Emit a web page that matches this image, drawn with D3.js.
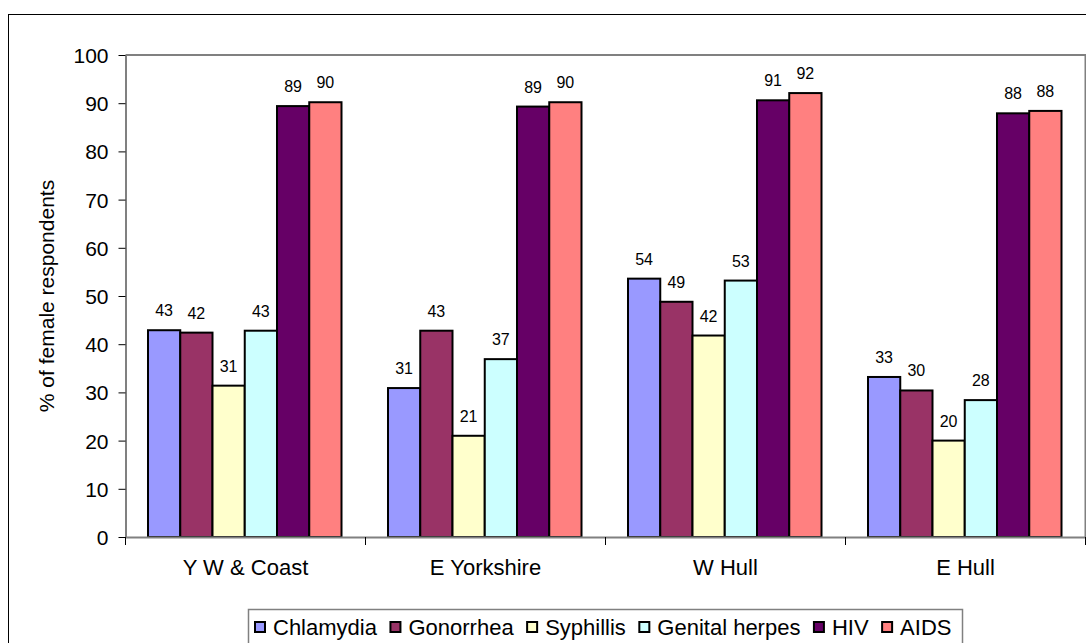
<!DOCTYPE html>
<html>
<head>
<meta charset="utf-8">
<script src="https://cdn.jsdelivr.net/npm/d3@7"></script>
<style>
  body { margin: 0; background: #fff; }
  text { font-family: "Liberation Sans", Arial, sans-serif; fill: #000; }
</style>
</head>
<body>
<div id="chart"></div>
<script>
// data
const regions = ["Y W & Coast", "E Yorkshire", "W Hull", "E Hull"];
const diseases = ["Chlamydia", "Gonorrhea", "Syphillis", "Genital herpes", "HIV", "AIDS"];
const chlamydia = [42.9, 30.9, 53.6, 33.2];
const gonorrhea = [42.4, 42.8, 48.8, 30.4];
const syphillis = [31.4, 21.0, 41.8, 20.0];
const herpes    = [42.8, 36.9, 53.2, 28.4];
const hiv       = [89.4, 89.3, 90.6, 87.9];
const aids      = [90.2, 90.2, 92.1, 88.4];
const yTicks = [0, 10, 20, 30, 40, 50, 60, 70, 80, 90, 100];
const colors = ["#9999ff", "#993366", "#ffffcc", "#ccffff", "#660066", "#ff8080"];

const seriesValues = [chlamydia, gonorrhea, syphillis, herpes, hiv, aids];
const data = regions.map((r, i) => ({
  region: r,
  values: diseases.map((d, j) => ({ key: d, value: seriesValues[j][i] }))
}));

const W = 1086, H = 643;
const plot = { left: 125.5, right: 1085.5, top: 55, bottom: 537 };

const svg = d3.select("#chart").append("svg")
  .attr("width", W).attr("height", H);

// outer chart border
svg.append("rect")
  .attr("x", 8.5).attr("y", 14.5)
  .attr("width", W + 20).attr("height", H + 20)
  .attr("fill", "#fff").attr("stroke", "#000").attr("stroke-width", 1);

const x0 = d3.scaleBand().domain(regions).range([plot.left, plot.right]).padding(0);
const x1 = d3.scaleBand().domain(diseases).range([22.5, 216]).padding(0);
const y = d3.scaleLinear().domain([0, 100]).range([plot.bottom, plot.top]);
const color = d3.scaleOrdinal().domain(diseases).range(colors);

// plot area frame (top + right, gray)
svg.append("path")
  .attr("d", `M${plot.left},${plot.top}H${plot.right}V${plot.bottom}`)
  .attr("fill", "none").attr("stroke", "#808080").attr("stroke-width", 2);

// bars
const groups = svg.append("g").selectAll("g")
  .data(data).join("g")
  .attr("transform", d => `translate(${x0(d.region)},0)`);

groups.selectAll("rect")
  .data(d => d.values).join("rect")
  .attr("x", d => x1(d.key))
  .attr("y", d => y(d.value))
  .attr("width", x1.bandwidth())
  .attr("height", d => y(0) - y(d.value))
  .attr("fill", d => color(d.key))
  .attr("stroke", "#000")
  .attr("stroke-width", 2);

groups.selectAll("text")
  .data(d => d.values).join("text")
  .attr("x", d => x1(d.key) + x1.bandwidth() / 2)
  .attr("y", d => y(d.value) - 14)
  .attr("text-anchor", "middle")
  .style("font-size", "16px")
  .text(d => Math.round(d.value));

// y axis
const yAxis = svg.append("g")
  .attr("transform", `translate(${plot.left},0)`)
  .call(d3.axisLeft(y).tickValues(yTicks).tickSize(7).tickPadding(10).tickSizeOuter(0));
yAxis.select(".domain").attr("stroke", "#808080").attr("stroke-width", 2);
yAxis.selectAll(".tick line").attr("stroke", "#000");
yAxis.selectAll(".tick text")
  .style("font-size", "21px")
  .attr("font-family", null)
  .attr("dy", "0.36em");

// x axis
const xAxis = svg.append("g")
  .attr("transform", `translate(0,${plot.bottom})`)
  .call(d3.axisBottom(x0).tickSize(0).tickSizeOuter(0));
xAxis.select(".domain").attr("stroke", "#808080").attr("stroke-width", 2);
xAxis.selectAll(".tick text")
  .attr("y", 38).attr("dy", 0)
  .style("font-size", "22px")
  .attr("font-family", null);

// category boundary ticks
svg.append("g").selectAll("line")
  .data(regions.concat(["end"])).join("line")
  .attr("x1", (d, i) => i < regions.length ? x0(d) : plot.right)
  .attr("x2", (d, i) => i < regions.length ? x0(d) : plot.right)
  .attr("y1", plot.bottom).attr("y2", plot.bottom + 8)
  .attr("stroke", "#000").attr("stroke-width", 1);

// y axis title
svg.append("text")
  .attr("transform", `translate(54,${(plot.top + plot.bottom) / 2}) rotate(-90)`)
  .attr("text-anchor", "middle")
  .style("font-size", "21px")
  .text("% of female respondents");

// legend
const legend = svg.append("g");
legend.append("rect")
  .attr("x", 248.5).attr("y", 609.5)
  .attr("width", 714).attr("height", 60)
  .attr("fill", "#fff").attr("stroke", "#808080").attr("stroke-width", 1.5);

let lx = 254;
diseases.forEach(d => {
  legend.append("rect")
    .attr("x", lx + 1).attr("y", 622)
    .attr("width", 10).attr("height", 10)
    .attr("fill", color(d)).attr("stroke", "#000").attr("stroke-width", 2);
  const t = legend.append("text")
    .attr("x", lx + 19).attr("y", 635)
    .style("font-size", "22px")
    .text(d);
  lx += 19 + t.node().getComputedTextLength() + 12.5;
});
</script>
</body>
</html>
